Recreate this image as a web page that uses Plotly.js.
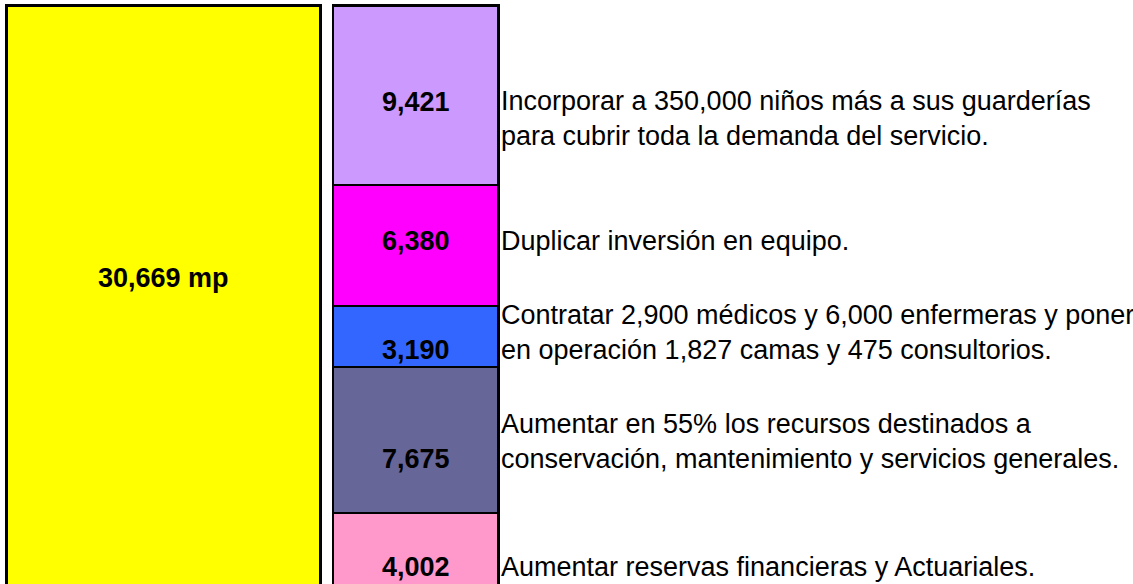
<!DOCTYPE html>
<html>
<head>
<meta charset="utf-8">
<script src="https://cdn.plot.ly/plotly-3.0.1.min.js"></script>
<style>
  html, body { margin: 0; padding: 0; background: #ffffff; overflow: hidden; }
  #chart { width: 1133px; height: 592px; }
</style>
</head>
<body>
<div id="chart"></div>
<script>
// ---------- DATA ----------
const categories = ['Total', 'Desglose'];
const totalValues = [30669];
const totalLabel = '30,669 mp';
// stacked segments, bottom to top
const segmentNames = ['Reservas', 'Conservación', 'Personal', 'Equipo', 'Guarderías'];
const segmentValues = [4002, 7675, 3190, 6380, 9421];
const segmentLabels = ['4,002', '7,675', '3,190', '6,380', '9,421'];
const segmentDescriptions = [
  'Aumentar reservas financieras y Actuariales.',
  'Aumentar en 55% los recursos destinados a<br>conservación, mantenimiento y servicios generales.',
  'Contratar 2,900 médicos y 6,000 enfermeras y poner<br>en operación 1,827 camas y 475 consultorios.',
  'Duplicar inversión en equipo.',
  'Incorporar a 350,000 niños más a sus guarderías<br>para cubrir toda la demanda del servicio.'
];

// ---------- STYLE / LAYOUT ----------
const segmentColors = ['#FF99CC', '#666699', '#3366FF', '#FF00FF', '#CC99FF'];
const totalColor = '#FFFF00';
const FONT = '"Liberation Sans", Arial, sans-serif';
const LABEL_SIZE = 27;
const DESC_SIZE = 27;

const W = 1133, H = 592;
const M = { l: 0, r: 0, t: 2, b: 3 };
const plotTop = M.t, plotBottom = H - M.b, plotH = plotBottom - plotTop;
const barTopPx = 5.5;
const yMax = totalValues[0] * plotH / (plotBottom - barTopPx);

// x geometry (category units)
const totalCenterPx = 163, stackCenterPx = 415.75;
const pxPerCat = stackCenterPx - totalCenterPx;
const xRange = [(0 - totalCenterPx) / pxPerCat, (W - totalCenterPx) / pxPerCat];
const totalWidth = 314 / pxPerCat;
const stackWidth = 165.5 / pxPerCat;

const paperY = Y => (plotBottom - Y) / plotH;
const paperX = X => X / W;

// label positions (pixel rows), bottom-to-top order matching segments
const labelRowsPx = [567, 459, 350, 241, 102];
const descRowsPx = [567, 441, 332.5, 241, 118.5];
const totalLabelRowPx = 278;

const traces = [];
traces.push({
  type: 'bar',
  x: [categories[0]],
  y: totalValues,
  width: totalWidth,
  marker: { color: totalColor, line: { color: '#000000', width: 3 } },
  hoverinfo: 'skip',
  showlegend: false
});
segmentValues.forEach((v, i) => {
  traces.push({
    type: 'bar',
    name: segmentNames[i],
    x: [categories[1]],
    y: [v],
    width: stackWidth,
    marker: { color: segmentColors[i], line: { color: '#000000', width: 2.5 } },
    hoverinfo: 'skip',
    showlegend: false
  });
});

const annotations = [];
annotations.push({
  xref: 'paper', yref: 'paper',
  x: paperX(totalCenterPx), y: paperY(totalLabelRowPx),
  xanchor: 'center', yanchor: 'middle',
  text: '<b>' + totalLabel + '</b>', showarrow: false,
  font: { family: FONT, size: LABEL_SIZE, color: '#000000' }
});
segmentLabels.forEach((t, i) => {
  annotations.push({
    xref: 'paper', yref: 'paper',
    x: paperX(stackCenterPx), y: paperY(labelRowsPx[i]),
    xanchor: 'center', yanchor: 'middle',
    text: '<b>' + t + '</b>', showarrow: false,
    font: { family: FONT, size: LABEL_SIZE, color: '#000000' }
  });
  annotations.push({
    xref: 'paper', yref: 'paper',
    x: paperX(499), y: paperY(descRowsPx[i]),
    xanchor: 'left', yanchor: 'middle', align: 'left',
    text: segmentDescriptions[i], showarrow: false,
    font: { family: FONT, size: DESC_SIZE, color: '#000000' }
  });
});

const layout = {
  width: W, height: H,
  margin: M,
  paper_bgcolor: '#ffffff', plot_bgcolor: '#ffffff',
  barmode: 'stack',
  showlegend: false,
  xaxis: { type: 'category', range: xRange, visible: false, fixedrange: true },
  yaxis: { range: [0, yMax], visible: false, fixedrange: true },
  annotations: annotations,
  font: { family: FONT }
};

Plotly.newPlot('chart', traces, layout, { staticPlot: true, displayModeBar: false });
</script>
</body>
</html>
